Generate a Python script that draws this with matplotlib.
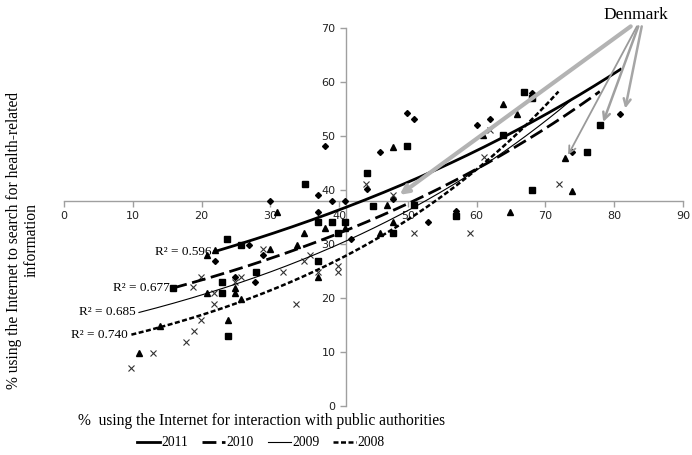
import numpy as np
import matplotlib
matplotlib.use("Agg")
import matplotlib.pyplot as plt
from matplotlib.lines import Line2D

SERIF = ["Liberation Serif", "DejaVu Serif"]

# ── data (x = % interaction with authorities, y = % health search) ──
x_2011 = [21.9, 24.8, 26.9, 27.8, 28.9, 29.9, 36.9, 36.9, 38.0, 38.9, 40.8, 41.8,
          44.0, 45.9, 47.9, 49.9, 50.9, 52.9, 57.0, 60.0, 62.0, 68.0, 73.9, 80.9]
y_2011 = [26.9, 23.9, 29.9, 22.9, 28.0, 38.0, 39.1, 36.0, 48.1, 38.0, 38.0, 30.9,
          40.1, 47.1, 38.3, 54.2, 53.1, 34.0, 36.2, 52.0, 53.1, 58.0, 47.1, 54.1]

x_2010 = [15.9, 22.9, 22.9, 23.9, 23.7, 25.8, 27.9, 35.0, 36.9, 36.9, 38.9, 39.9,
          40.8, 44.0, 44.9, 47.9, 49.9, 50.9, 57.0, 63.9, 66.9, 68.0, 68.0, 76.0, 77.9]
y_2010 = [21.8, 23.0, 21.0, 13.0, 31.0, 29.8, 24.9, 41.1, 34.0, 26.9, 34.0, 32.0,
          34.0, 43.1, 37.1, 32.1, 48.1, 37.2, 35.1, 50.1, 58.1, 57.1, 40.0, 47.1, 52.0]

x_2009 = [10.9, 13.9, 20.8, 20.8, 22.0, 23.9, 24.8, 24.8, 25.8, 29.9, 31.0, 33.9,
          34.9, 36.9, 37.9, 40.8, 45.9, 46.9, 47.9, 47.9, 60.9, 63.9, 64.9, 65.9, 72.9, 73.9]
y_2009 = [9.9, 14.9, 28.0, 21.0, 28.9, 15.9, 21.8, 20.9, 19.9, 29.1, 36.0, 29.9,
          32.0, 23.9, 33.0, 33.0, 32.1, 37.2, 34.0, 48.0, 50.1, 56.0, 36.0, 54.1, 46.0, 39.9]

x_2008 = [9.8, 12.9, 17.8, 18.9, 19.9, 21.8, 18.8, 19.9, 21.8, 24.8, 25.8, 28.9,
          31.9, 33.8, 34.9, 35.8, 36.9, 39.9, 39.9, 43.9, 47.9, 50.9, 59.0, 61.0, 62.0, 71.9]
y_2008 = [7.0, 9.9, 11.9, 13.9, 15.9, 18.9, 22.0, 23.9, 21.0, 23.0, 23.9, 29.0,
          24.9, 18.9, 26.9, 28.0, 24.9, 25.9, 24.9, 41.1, 39.1, 32.0, 32.0, 46.2, 51.1, 41.1]

years = ["2011", "2010", "2009", "2008"]
r2_labels = ["R² = 0.596", "R² = 0.677", "R² = 0.685", "R² = 0.740"]

# points the Denmark arrows go to (x, y)
dk_targets = [(48.8, 39.1), (73.3, 46.5), (78.4, 52.6), (81.6, 55.1)]

series = {
    "2011": (x_2011, y_2011),
    "2010": (x_2010, y_2010),
    "2009": (x_2009, y_2009),
    "2008": (x_2008, y_2008),
}
markers = {"2011": dict(marker="D", ms=3.0),
           "2010": dict(marker="s", ms=4.0),
           "2009": dict(marker="^", ms=4.2),
           "2008": dict(marker="x", ms=4.2, mew=0.8)}
lines = {"2011": dict(lw=2.0, ls="-"),
         "2010": dict(lw=2.0, ls=(0, (5, 2))),
         "2009": dict(lw=0.8, ls="-"),
         "2008": dict(lw=1.8, ls=(0, (2, 1)))}

fig = plt.figure(figsize=(6.92, 4.55), dpi=100)
ax = fig.add_axes([64 / 692, 49 / 455, 619 / 692, 378 / 455])

for yr in years:
    xs, ys = np.array(series[yr][0]), np.array(series[yr][1])
    c = "black" if yr != "2008" else "#333333"
    ax.plot(xs, ys, ls="none", color=c, mec=c, zorder=3, **markers[yr])
    # exponential trendline (like Excel): ln y = ln a + b x
    b, lna = np.polyfit(xs, np.log(ys), 1)
    xx = np.linspace(xs.min(), xs.max(), 200)
    ax.plot(xx, np.exp(lna) * np.exp(b * xx), color="black", zorder=4, **lines[yr])
    ax.text(xs.min() - 0.5, np.exp(lna + b * xs.min()), r2_labels[years.index(yr)],
            ha="right", va="center", family=SERIF, fontsize=9.5)

# Denmark label + arrows
ax.text(83.2, 72.4, "Denmark", ha="center", va="center", family=SERIF,
        fontsize=12.5, clip_on=False)
starts = [(82.4, 70.3), (83.3, 70.3), (83.5, 70.3), (84.0, 70.3)]
widths = [3.0, 1.3, 1.8, 1.8]
cols = ["#b3b3b3", "#9a9a9a", "#a0a0a0", "#a6a6a6"]
for (sx, sy), (tx, ty), w, c in zip(starts, dk_targets, widths, cols):
    ax.annotate("", xy=(tx, ty), xytext=(sx, sy), annotation_clip=False,
                arrowprops=dict(arrowstyle="->,head_length=0.5,head_width=0.25",
                                color=c, lw=w, shrinkA=0, shrinkB=0), zorder=5)

ax.set_xlim(0, 90)
ax.set_ylim(0, 70)
ax.set_xticks(np.arange(0, 91, 10))
ax.set_yticks(np.arange(0, 71, 10))
ax.spines["left"].set_position(("data", 41))
ax.spines["bottom"].set_position(("data", 38))
for s in ["top", "right"]:
    ax.spines[s].set_visible(False)
for s in ["left", "bottom"]:
    ax.spines[s].set_color("#9f9f9f")
    ax.spines[s].set_linewidth(1.0)
ax.tick_params(colors="#9f9f9f", labelcolor="#222222", labelsize=8, length=4, width=1)

fig.text(261 / 692, 1 - 421 / 455,
         "%  using the Internet for interaction with public authorities",
         ha="center", va="center", family=SERIF, fontsize=11.2)
fig.text(23 / 692, 1 - 240 / 455,
         "% using the Internet to search for health-related\ninformation",
         ha="center", va="center", rotation=90, family=SERIF, fontsize=11.2,
         linespacing=1.1)

handles = [Line2D([], [], color="black", **lines[yr]) for yr in years]
fig.legend(handles, years, loc="center", bbox_to_anchor=(261 / 692, 1 - 443 / 455),
           ncol=4, frameon=False, prop=dict(family=SERIF, size=9.8),
           handlelength=1.7, handletextpad=0.1, columnspacing=1.0)

fig.savefig("out.png", dpi=100)
